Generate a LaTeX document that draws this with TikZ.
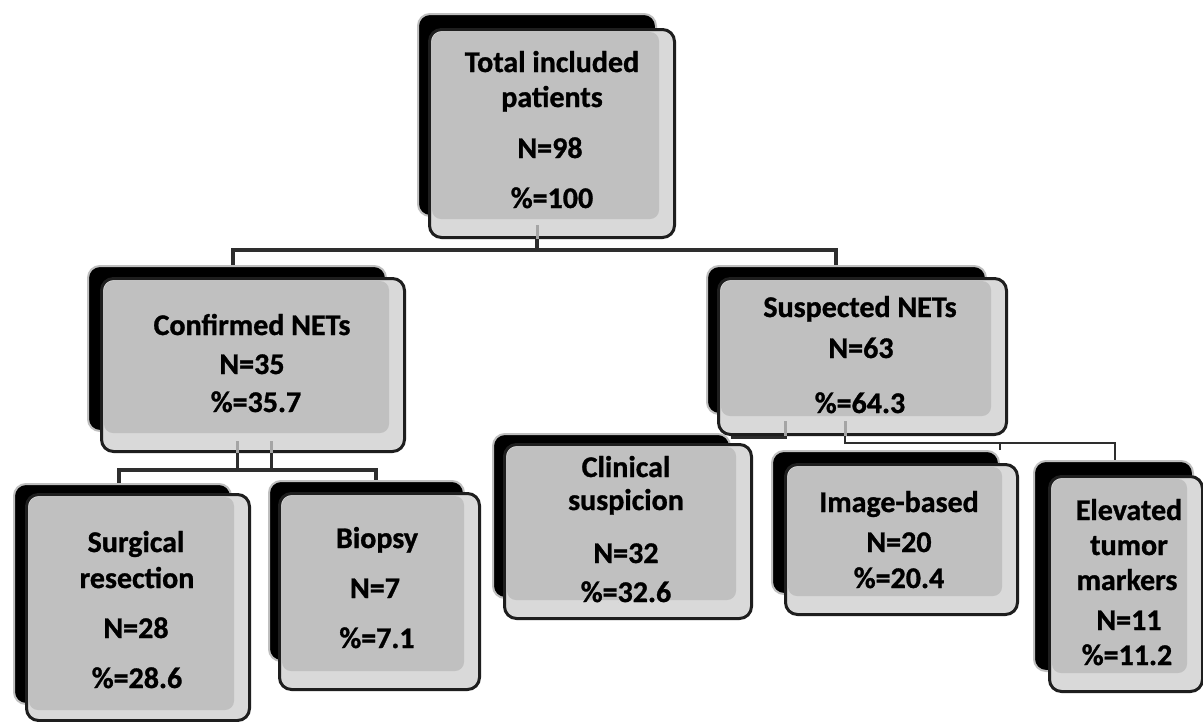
\documentclass[tikz,border=0pt]{standalone}
\usepackage{fontspec}
\setmainfont{Carlito}[BoldFeatures={FakeBold=1}]
\pgfdeclarelayer{bg}
\pgfsetlayers{bg,main}
\definecolor{innerc}{HTML}{C0C0C0}
\definecolor{bandc}{HTML}{D9D9D9}
\definecolor{edgec}{HTML}{1E1E1E}
\definecolor{connc}{HTML}{2E2E2E}
\definecolor{tickc}{HTML}{A5A5A5}
\tikzset{
  shadowbox/.style={rectangle, rounded corners=12pt, fill=black, draw=black!25, line width=2pt, inner sep=0pt},
  frontbox/.style={rectangle, rounded corners=12pt, fill=bandc, draw=edgec, line width=3pt, inner sep=0pt},
  lbl/.style={font=\fontsize{30}{36}\selectfont\bfseries, anchor=base, inner sep=0pt, text=black},
  conn/.style={draw=connc, line width=3pt},
  ltick/.style={draw=tickc, line width=3pt}
}
\newcommand\bandb{20}
\newcommand\nbox[9]{%
  \pgfmathsetmacro\sw{#8-#6}\pgfmathsetmacro\sh{#9-#7}%
  \node[shadowbox,minimum width=\sw pt,minimum height=\sh pt,anchor=north west] (#1s) at (#6,#7) {};
  \pgfmathsetmacro\fw{#4-#2}\pgfmathsetmacro\fh{#5-#3}%
  \node[frontbox,minimum width=\fw pt,minimum height=\fh pt,anchor=north west] (#1) at (#2,#3) {};
  \fill[innerc,rounded corners=9pt] ([shift={(4,4)}]#1.north west) rectangle ([shift={(-17,-\bandb)}]#1.south east);
}
\begin{document}
\begin{tikzpicture}[x=1pt,y=-1pt]
\useasboundingbox (0,0) rectangle (1203,721);

% boxes
\nbox{tot}{428}{28}{673}{236}{417}{13}{655}{215}
\nbox{conf}{100}{277}{403}{450}{87}{265}{385}{430}
\nbox{susp}{717}{277}{1005}{433}{706}{265}{985}{413}
\renewcommand\bandb{12}
\nbox{surg}{25}{493}{248}{719}{13}{483}{230}{703}
\renewcommand\bandb{20}
\nbox{biop}{278}{492}{478}{688}{268}{480}{463}{660}
\nbox{clin}{503}{443}{750}{617}{492}{433}{729}{597}
\nbox{imag}{784}{463}{1016}{613}{771}{450}{998}{593}
\nbox{elev}{1048}{475}{1201}{690}{1033}{460}{1192}{670}

% junction coordinates
\coordinate (b1) at (537,250);
\coordinate (c1) at (233,250);
\coordinate (c2) at (836,250);
\coordinate (c3) at (237,470);
\coordinate (c4) at (271,470);
\coordinate (c5) at (119,470);
\coordinate (c6) at (376,470);
\coordinate (d1) at (785,437);
\coordinate (d3) at (845,443);
\coordinate (d4) at (1115,443);
\coordinate (d5) at (1000,443);

\begin{pgfonlayer}{bg}
  \fill[white] (0,0) rectangle (1203,721);
  \draw[conn,line width=4pt] (tot.south -| b1) -- (b1);
  \draw[conn,line width=4pt] (confs.north -| c1) -- (c1) -- (c2) -- (susps.north -| c2);
  \draw[conn] (conf.south -| c3) -- (c3);
  \draw[conn] (conf.south -| c4) -- (c4);
  \draw[conn,line width=3.5pt] (surgs.north -| c5) -- (c5) -- (c6) -- (biops.north -| c6);
  \draw[conn] (susp.south -| d1) -- (d1) -- (clins.north east |- d1);
  \draw[conn,line width=2.5pt] (susp.south -| d3) -- (d3) -- (d4) -- (elevs.north -| d4);
  \draw[conn,line width=2.5pt] (d5) -- (imags.north -| d5);
\end{pgfonlayer}

% light continuation of the connectors inside the lower bands
\draw[ltick] (tot.south -| b1) -- ++(0,-14);
\draw[ltick] (conf.south -| c3) -- ++(0,-12);
\draw[ltick] (conf.south -| c4) -- ++(0,-12);
\draw[ltick] (susp.south -| d1) -- ++(0,-15);
\draw[ltick] (susp.south -| d3) -- ++(0,-15);

% texts
\node[lbl] (t1) at (552,72) {Total included};
\node[lbl] (t2) at (552,107) {patients};
\node[lbl] (t3) at (550,158) {N=98};
\node[lbl] (t4) at (552,208) {\%=100};

\node[lbl] (c1t) at (252,335) {Confirmed NETs};
\node[lbl] (c2t) at (252,374) {N=35};
\node[lbl] (c3t) at (256,412) {\%=35.7};

\node[lbl] (s1t) at (860,317) {Suspected NETs};
\node[lbl] (s2t) at (861,358) {N=63};
\node[lbl] (s3t) at (860,413) {\%=64.3};

\node[lbl] (r1t) at (136,552) {Surgical};
\node[lbl] (r2t) at (137,588) {resection};
\node[lbl] (r3t) at (136,638) {N=28};
\node[lbl] (r4t) at (137,688) {\%=28.6};

\node[lbl] (b1t) at (377,548) {Biopsy};
\node[lbl] (b2t) at (375,598) {N=7};
\node[lbl] (b3t) at (377,648) {\%=7.1};

\node[lbl] (k1t) at (626,477) {Clinical};
\node[lbl] (k2t) at (626,510) {suspicion};
\node[lbl] (k3t) at (626,563) {N=32};
\node[lbl] (k4t) at (626,602) {\%=32.6};

\node[lbl] (i1t) at (899,512) {Image-based};
\node[lbl] (i2t) at (899,552) {N=20};
\node[lbl] (i3t) at (899,588) {\%=20.4};

\node[lbl] (e1t) at (1129,520) {Elevated};
\node[lbl] (e2t) at (1129,555) {tumor};
\node[lbl] (e3t) at (1127,590) {markers};
\node[lbl] (e4t) at (1129,630) {N=11};
\node[lbl] (e5t) at (1127,665) {\%=11.2};
\end{tikzpicture}
\end{document}
